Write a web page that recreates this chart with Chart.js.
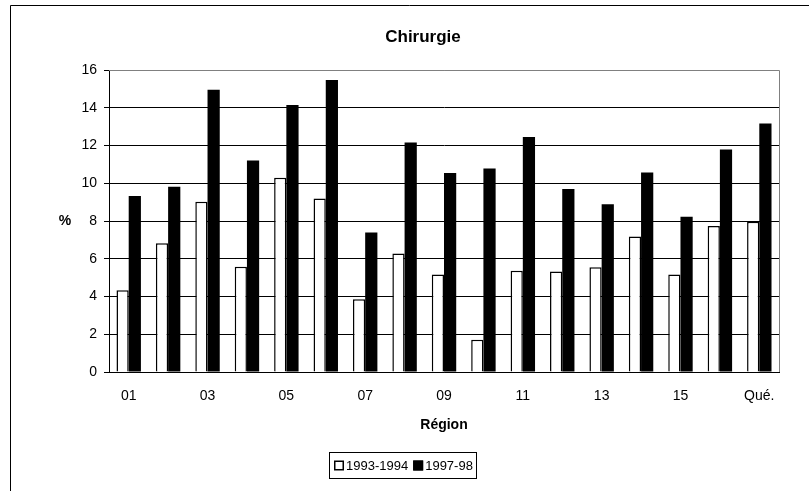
<!DOCTYPE html>
<html>
<head>
<meta charset="utf-8">
<script src="https://cdn.jsdelivr.net/npm/chart.js@4"></script>
<style>
  html, body { margin: 0; padding: 0; background: #fff; }
  #wrap { width: 809px; height: 491px; }
</style>
</head>
<body>
<div id="wrap"><canvas id="barChart" width="809" height="491"></canvas></div>
<script>
const regions = ["01", "02", "03", "04", "05", "06", "07", "08", "09", "10",
  "11", "12", "13", "14", "15", "16", "Qué."];
const rate9394 = [4.33, 6.82, 9.02, 5.57, 10.29, 9.19, 3.85, 6.28, 5.16, 1.71,
  5.37, 5.32, 5.55, 7.18, 5.16, 7.73, 7.96];
const rate9798 = [9.32, 9.81, 14.96, 11.21, 14.14, 15.47, 7.39, 12.16, 10.54, 10.78,
  12.45, 9.69, 8.89, 10.57, 8.22, 11.79, 13.17];
const yTicks = [0, 2, 4, 6, 8, 10, 12, 14, 16];

const FONT = "'Liberation Sans', Arial, sans-serif";

// frame, title, "%" label, grey plot border and a compact boxed legend
const decorations = {
  id: "decorations",
  afterDraw(chart) {
    const ctx = chart.ctx;
    const a = chart.chartArea;
    ctx.save();
    ctx.strokeStyle = "#000";
    ctx.lineWidth = 1;
    ctx.beginPath();
    ctx.moveTo(10.5, 491);
    ctx.lineTo(10.5, 5.5);
    ctx.lineTo(809, 5.5);
    ctx.stroke();

    ctx.strokeStyle = "#808080";
    ctx.beginPath();
    ctx.moveTo(a.left, Math.round(a.top) + 0.5);
    ctx.lineTo(Math.round(a.right) + 0.5, Math.round(a.top) + 0.5);
    ctx.lineTo(Math.round(a.right) + 0.5, a.bottom);
    ctx.stroke();

    ctx.fillStyle = "#000";
    ctx.font = "bold 17px " + FONT;
    ctx.textAlign = "center";
    ctx.textBaseline = "middle";
    ctx.fillText("Chirurgie", 423, 37);

    ctx.font = "bold 14px " + FONT;
    ctx.fillText("%", 65, 221);

    // legend
    ctx.font = "13px " + FONT;
    ctx.textAlign = "left";
    const sq = 10, gap = 2, sep = 5, pad = 4;
    const items = chart.data.datasets.map((ds) => ({
      ds: ds,
      w: ctx.measureText(ds.label).width,
    }));
    let total = 0;
    items.forEach((it, i) => {
      total += sq + gap + it.w + (i < items.length - 1 ? sep : 0);
    });
    const cx = 403.5;
    const top = 452.5, h = 26;
    let x = Math.round(cx - total / 2);
    ctx.strokeStyle = "#000";
    ctx.lineWidth = 1;
    ctx.strokeRect(x - pad - 0.5, top, Math.round(total) + pad * 2, h);
    const my = top + h / 2;
    items.forEach((it) => {
      ctx.fillStyle = it.ds.backgroundColor;
      ctx.fillRect(x, my - sq / 2, sq, sq);
      ctx.lineWidth = 1.5;
      ctx.strokeStyle = "#000";
      ctx.strokeRect(x + 0.75, my - sq / 2 + 0.75, sq - 1.5, sq - 1.5);
      ctx.fillStyle = "#000";
      ctx.fillText(it.ds.label, x + sq + gap, my + 1);
      x += sq + gap + it.w + sep;
    });
    ctx.restore();
  }
};

new Chart(document.getElementById("barChart").getContext("2d"), {
  type: "bar",
  data: {
    labels: regions,
    datasets: [
      {
        label: "1993-1994",
        data: rate9394,
        backgroundColor: "#fff",
        borderColor: "#000",
        borderWidth: 1.5,
        borderSkipped: "bottom",
      },
      {
        label: "1997-98",
        data: rate9798,
        backgroundColor: "#000",
        borderColor: "#000",
        borderWidth: 0,
      },
    ],
  },
  options: {
    responsive: false,
    animation: false,
    devicePixelRatio: 1,
    layout: { padding: { top: 70, right: 30, bottom: 36, left: 0 } },
    datasets: { bar: { categoryPercentage: 0.62, barPercentage: 1.0 } },
    scales: {
      x: {
        afterFit: function (scale) {
          scale.height = 83;
        },
        grid: { display: false, drawTicks: false },
        border: { color: "#000", width: 1 },
        ticks: {
          color: "#000",
          font: { family: FONT, size: 14 },
          padding: 16,
          autoSkip: false,
          maxRotation: 0,
          callback: function (value, index) {
            return index % 2 === 0 ? regions[index] : "";
          },
        },
        title: {
          display: true,
          text: "Région",
          color: "#000",
          font: { family: FONT, size: 14, weight: "bold" },
          padding: { top: 8, bottom: 21 },
        },
      },
      y: {
        min: 0,
        max: 16,
        afterBuildTicks: function (scale) {
          scale.ticks = yTicks.map((v) => ({ value: v }));
        },
        afterFit: function (scale) {
          scale.width = 109;
        },
        grid: {
          color: (c) => (c.tick && c.tick.value === 16 ? "#808080" : "#000"),
          tickColor: "#000",
          tickLength: 5,
          lineWidth: 1,
        },
        border: { color: "#000", width: 1 },
        ticks: {
          color: "#000",
          font: { family: FONT, size: 14 },
          padding: 7,
        },
      },
    },
    plugins: {
      title: { display: false },
      legend: { display: false },
      tooltip: { enabled: false },
    },
  },
  plugins: [decorations],
});
</script>
</body>
</html>
